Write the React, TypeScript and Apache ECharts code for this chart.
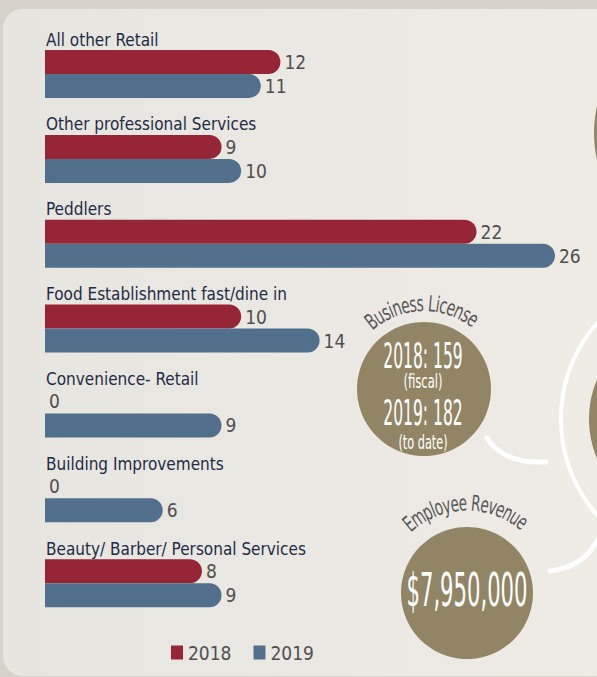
import React, { useEffect, useRef } from "react";
import * as echarts from "echarts";

const categories = [
  "All other Retail",
  "Other professional Services",
  "Peddlers",
  "Food Establishment fast/dine in",
  "Convenience- Retail",
  "Building Improvements",
  "Beauty/ Barber/ Personal Services",
];
const values2018 = [12, 9, 22, 10, 0, 0, 8];
const values2019 = [11, 10, 26, 14, 9, 6, 9];
const seriesNames = ["2018", "2019"];

const licenseLines = ["2018: 159", "(fiscal)", "2019: 182", "(to date)"];
const revenueText = "$7,950,000";
const licenseTitle = "Business License";
const revenueTitle = "Employee Revenue";

const NARROW = "'DejaVu Sans Condensed', 'Liberation Sans Narrow', sans-serif";
const RED = "#962536";
const BLUE = "#52708c";
const OLIVE = "#928566";
const NAVY = "#1e2b45";
const GREY = "#4f4f4f";

function arcText(
  text: string,
  cx: number,
  cy: number,
  r: number,
  startDeg: number,
  endDeg: number,
  fontSize: number,
  color: string
) {
  const canvas = document.createElement("canvas");
  const ctx = canvas.getContext("2d")!;
  ctx.font = `${fontSize}px ${NARROW}`;
  const widths = text.split("").map((c) => ctx.measureText(c).width);
  const total = widths.reduce((a, b) => a + b, 0);
  const firstC = widths[0] / 2;
  const lastC = total - widths[widths.length - 1] / 2;
  const arcLen = ((endDeg - startDeg) * Math.PI * r) / 180;
  const sx = arcLen / (lastC - firstC);
  const els: any[] = [];
  let acc = 0;
  text.split("").forEach((ch, i) => {
    const center = acc + widths[i] / 2;
    acc += widths[i];
    if (ch === " ") return;
    const f = (center - firstC) / (lastC - firstC);
    const th = ((startDeg + (endDeg - startDeg) * f) * Math.PI) / 180;
    els.push({
      type: "text",
      x: cx + r * Math.sin(th),
      y: cy - r * Math.cos(th),
      rotation: -th,
      scaleX: sx,
      z: 20,
      style: {
        text: ch,
        fill: color,
        font: `${fontSize}px ${NARROW}`,
        align: "center",
        verticalAlign: "middle",
        textAlign: "center",
        textVerticalAlign: "middle",
      },
    });
  });
  return els;
}

function txt(text: string, x: number, y: number, size: number, sx: number) {
  return {
    type: "text",
    x,
    y,
    scaleX: sx,
    z: 20,
    style: {
      text,
      fill: "#ffffff",
      font: `${size}px ${NARROW}`,
      align: "center",
      verticalAlign: "middle",
      textAlign: "center",
      textVerticalAlign: "middle",
    },
  };
}

export default function App() {
  const ref = useRef<HTMLDivElement>(null);
  useEffect(() => {
    if (!ref.current) return;
    const chart = echarts.init(ref.current, null, { renderer: "svg" });
    const graphic: any[] = [
      {
        type: "rect",
        z: -10,
        shape: { x: 3, y: 9, width: 620, height: 667, r: 20 },
        style: {
          fill: new echarts.graphic.LinearGradient(0, 0, 1, 0, [
            { offset: 0, color: "#e7e5e0" },
            { offset: 1, color: "#efece6" },
          ]),
        },
      },
      { type: "circle", z: 5, shape: { cx: 714, cy: 133, r: 120 }, style: { fill: OLIVE } },
      { type: "circle", z: 5, shape: { cx: 690, cy: 419, r: 101 }, style: { fill: OLIVE } },
      {
        type: "circle",
        z: 5,
        shape: { cx: 707, cy: 419, r: 146 },
        style: { fill: "none", stroke: "#ffffff", lineWidth: 4 },
      },
      {
        type: "bezierCurve",
        z: 5,
        shape: { x1: 487, y1: 438, cpx1: 498, cpy1: 456, cpx2: 520, cpy2: 463, x2: 546, y2: 462 },
        style: { fill: "none", stroke: "#ffffff", lineWidth: 5, lineCap: "round" },
      },
      {
        type: "bezierCurve",
        z: 5,
        shape: { x1: 550, y1: 571, cpx1: 575, cpy1: 568, cpx2: 592, cpy2: 556, x2: 601, y2: 532 },
        style: { fill: "none", stroke: "#ffffff", lineWidth: 5, lineCap: "round" },
      },
      { type: "circle", z: 6, shape: { cx: 424, cy: 389, r: 67 }, style: { fill: OLIVE } },
      { type: "circle", z: 6, shape: { cx: 467, cy: 593, r: 66 }, style: { fill: OLIVE } },
      txt(licenseLines[0], 423, 356, 36, 0.48),
      txt(licenseLines[1], 423, 382, 19, 0.68),
      txt(licenseLines[2], 423, 413, 36, 0.48),
      txt(licenseLines[3], 423, 443, 19, 0.66),
      txt(revenueText, 467, 590, 47, 0.5),
      ...arcText(licenseTitle, 424, 389, 86, -38, 35, 22, "#585858"),
      ...arcText(revenueTitle, 467, 593, 90, -40, 38, 22, "#585858"),
    ];

    const barLabel = {
      show: true,
      position: "right",
      distance: 4,
      color: GREY,
      fontFamily: NARROW,
      fontSize: 19,
    };

    chart.setOption({
      animation: false,
      backgroundColor: "#d8d3ca",
      grid: { left: 45, right: 42, top: 31.6, bottom: 51.4, containLabel: false },
      legend: {
        data: seriesNames,
        icon: "rect",
        itemWidth: 12,
        itemHeight: 14,
        itemGap: 22,
        left: 166,
        top: 638,
        textStyle: { fontFamily: NARROW, fontSize: 19, color: GREY },
      },
      xAxis: { type: "value", min: 0, max: 26, show: false },
      yAxis: {
        type: "category",
        inverse: true,
        data: categories,
        axisLine: { show: false },
        axisTick: { show: false },
        splitLine: { show: false },
        axisLabel: {
          inside: true,
          margin: 1,
          align: "left",
          verticalAlign: "bottom",
          padding: [0, 0, 26, 0],
          color: NAVY,
          fontFamily: NARROW,
          fontSize: 17,
        },
      },
      series: [
        {
          name: seriesNames[0],
          type: "bar",
          data: values2018,
          barWidth: 24,
          barGap: "0%",
          itemStyle: { color: RED, borderRadius: [0, 12, 12, 0] },
          label: barLabel,
        },
        {
          name: seriesNames[1],
          type: "bar",
          data: values2019,
          barWidth: 24,
          barGap: "0%",
          itemStyle: { color: BLUE, borderRadius: [0, 12, 12, 0] },
          label: barLabel,
        },
      ],
      graphic,
    });
    return () => chart.dispose();
  }, []);
  return (
    <div
      ref={ref}
      style={{ position: "absolute", left: 0, top: 0, width: 597, height: 677 }}
    />
  );
}
